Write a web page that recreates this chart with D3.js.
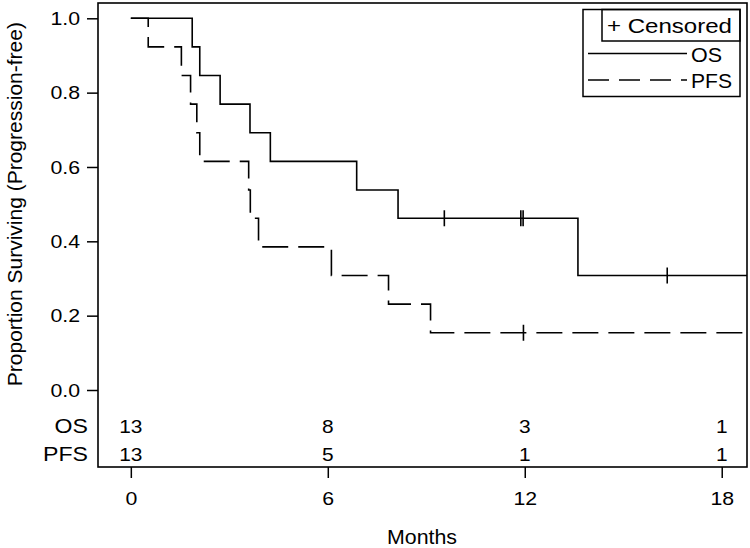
<!DOCTYPE html>
<html>
<head>
<meta charset="utf-8">
<script src="https://cdn.jsdelivr.net/npm/d3@7"></script>
<style>
  html, body { margin: 0; padding: 0; background: #fff; }
  svg { display: block; }
  text { font-family: "Liberation Sans", Arial, sans-serif; fill: #000; }
</style>
</head>
<body>
<svg id="chart" width="750" height="548"></svg>
<script>
// ---- Data ----
// Overall survival: step times (months) and survival level after each step
const osStepTimes = [0, 1.87, 2.10, 2.72, 3.63, 4.25, 6.88, 8.14, 13.62];
const osStepSurv  = [1.0, 0.923, 0.846, 0.769, 0.692, 0.615, 0.538, 0.462, 0.308];
const osCensorTimes = [9.55, 11.88, 11.95, 16.34];
const osLastTime = 19.5;

// Progression-free survival
const pfsStepTimes = [0, 0.53, 1.54, 1.82, 2.01, 2.10, 3.59, 3.64, 3.89, 6.11, 7.85, 9.13];
const pfsStepSurv  = [1.0, 0.923, 0.846, 0.769, 0.692, 0.615, 0.538, 0.462, 0.385, 0.308, 0.231, 0.154];
const pfsCensorTimes = [11.96];
const pfsLastTime = 19.5;

// Numbers at risk
const riskTimes = [0, 6, 12, 18];
const osRisk  = [13, 8, 3, 1];
const pfsRisk = [13, 5, 1, 1];
const riskLabels = ["OS", "PFS"];

const xTicks = [0, 6, 12, 18];
const yTicks = [0, 0.2, 0.4, 0.6, 0.8, 1.0];
const legendLabels = ["+ Censored", "OS", "PFS"];

// ---- Layout ----
const svg = d3.select("#chart");
const frame = { left: 98, right: 747, top: 3, bottom: 467 };
const STRETCH = 1.12;

const x = d3.scaleLinear().domain([-1, 18.77]).range([frame.left, frame.right]);
const y = d3.scaleLinear().domain([0, 1]).range([390, 18.3]);

function stretch(sel, k, fixed) {
  sel.each(function () {
    const len = fixed != null ? fixed : this.getComputedTextLength() * k;
    d3.select(this).attr("textLength", len).attr("lengthAdjust", "spacingAndGlyphs");
  });
}

// clip
svg.append("defs").append("clipPath").attr("id", "plotclip")
  .append("rect")
  .attr("x", frame.left).attr("y", frame.top)
  .attr("width", frame.right - frame.left).attr("height", frame.bottom - frame.top);

// frame
svg.append("rect")
  .attr("x", frame.left).attr("y", frame.top)
  .attr("width", frame.right - frame.left).attr("height", frame.bottom - frame.top)
  .attr("fill", "none").attr("stroke", "#000").attr("stroke-width", 1.6);

// y axis (ticks outside left)
const yAxis = d3.axisLeft(y).tickValues(yTicks).tickFormat(d3.format(".1f"))
  .tickSizeInner(11).tickSizeOuter(0).tickPadding(7);
const gy = svg.append("g").attr("transform", `translate(${frame.left},0)`).call(yAxis);
gy.select(".domain").remove();
gy.selectAll("line").attr("stroke", "#000").attr("stroke-width", 1.5);
gy.selectAll("text").attr("font-size", 19).attr("fill", "#000")
  .style("font-family", '"Liberation Sans", Arial, sans-serif');
stretch(gy.selectAll("text"), STRETCH);

// x axis
const xAxis = d3.axisBottom(x).tickValues(xTicks).tickFormat(d3.format("d"))
  .tickSizeInner(11).tickSizeOuter(0).tickPadding(14);
const gx = svg.append("g").attr("transform", `translate(0,${frame.bottom})`).call(xAxis);
gx.select(".domain").remove();
gx.selectAll("line").attr("stroke", "#000").attr("stroke-width", 1.5);
gx.selectAll("text").attr("font-size", 19).attr("fill", "#000")
  .style("font-family", '"Liberation Sans", Arial, sans-serif');
stretch(gx.selectAll("text"), STRETCH);

// axis titles
const xt = svg.append("text").attr("x", 422).attr("y", 544)
  .attr("text-anchor", "middle").attr("font-size", 20).text("Months");
stretch(xt, 1, 70);
svg.append("text")
  .attr("transform", `translate(22,${(y(0) + y(1)) / 2}) rotate(-90)`)
  .attr("text-anchor", "middle").attr("font-size", 21)
  .text("Proportion Surviving (Progression-free)");

// step paths
function stepData(times, surv, lastTime) {
  const pts = times.map((t, i) => [t, surv[i]]);
  pts.push([lastTime, surv[surv.length - 1]]);
  return pts;
}
const line = d3.line().x(d => x(d[0])).y(d => y(d[1])).curve(d3.curveStepAfter);
const plot = svg.append("g").attr("clip-path", "url(#plotclip)");

plot.append("path").datum(stepData(osStepTimes, osStepSurv, osLastTime))
  .attr("d", line).attr("fill", "none").attr("stroke", "#000").attr("stroke-width", 1.6);
plot.append("path").datum(stepData(pfsStepTimes, pfsStepSurv, pfsLastTime))
  .attr("d", line).attr("fill", "none").attr("stroke", "#000").attr("stroke-width", 1.6)
  .attr("stroke-dasharray", "26,10");

// censor marks
function survAt(times, surv, t) {
  let s = surv[0];
  for (let i = 0; i < times.length; i++) if (times[i] <= t) s = surv[i];
  return s;
}
function censors(ct, times, surv) {
  plot.selectAll(null).data(ct).enter().append("line")
    .attr("x1", d => x(d)).attr("x2", d => x(d))
    .attr("y1", d => y(survAt(times, surv, d)) - 8)
    .attr("y2", d => y(survAt(times, surv, d)) + 8)
    .attr("stroke", "#000").attr("stroke-width", 1.6);
}
censors(osCensorTimes, osStepTimes, osStepSurv);
censors(pfsCensorTimes, pfsStepTimes, pfsStepSurv);

// risk table
const riskRows = [osRisk, pfsRisk];
const riskBase = [433, 461];
riskRows.forEach((row, r) => {
  const lab = svg.append("text").attr("x", 88).attr("y", riskBase[r])
    .attr("text-anchor", "end").attr("font-size", 21).text(riskLabels[r]);
  stretch(lab, 1.1);
  const nums = svg.selectAll(null).data(row).enter().append("text")
    .attr("x", (d, i) => x(riskTimes[i])).attr("y", riskBase[r])
    .attr("text-anchor", "middle").attr("font-size", 19).text(d => d);
  stretch(nums, 1.1);
});

// legend
const lg = svg.append("g");
lg.append("rect").attr("x", 583).attr("y", 9.5).attr("width", 157).attr("height", 87)
  .attr("fill", "#fff").attr("stroke", "#000").attr("stroke-width", 1.5);
lg.append("rect").attr("x", 602).attr("y", 9.5).attr("width", 138).attr("height", 31.5)
  .attr("fill", "none").attr("stroke", "#000").attr("stroke-width", 1.5);
const l0 = lg.append("text").attr("x", 607).attr("y", 33).attr("font-size", 21).text(legendLabels[0]);
stretch(l0, 1, 125);
lg.append("line").attr("x1", 588).attr("x2", 687).attr("y1", 53.5).attr("y2", 53.5)
  .attr("stroke", "#000").attr("stroke-width", 1.6);
const l1 = lg.append("text").attr("x", 691).attr("y", 61.5).attr("font-size", 21).text(legendLabels[1]);
stretch(l1, 1, 31);
lg.append("line").attr("x1", 588).attr("x2", 687).attr("y1", 80).attr("y2", 80)
  .attr("stroke", "#000").attr("stroke-width", 1.6).attr("stroke-dasharray", "21,10");
const l2 = lg.append("text").attr("x", 691).attr("y", 88).attr("font-size", 21).text(legendLabels[2]);
stretch(l2, 1, 41);
</script>
</body>
</html>
